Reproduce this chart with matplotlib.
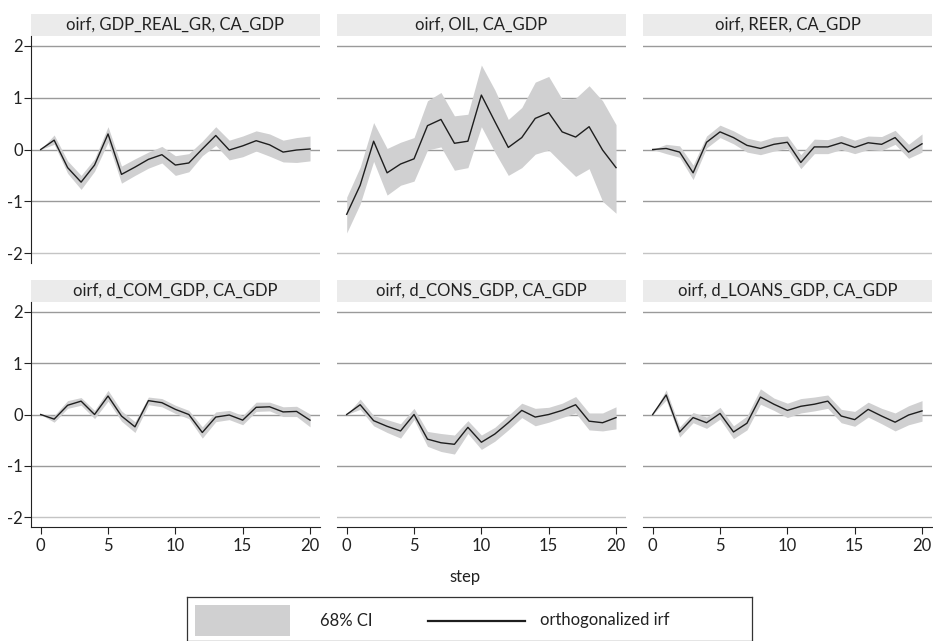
import numpy as np
import matplotlib
matplotlib.use("Agg")
import matplotlib.pyplot as plt
from matplotlib.patches import Rectangle
from matplotlib.lines import Line2D

plt.rcParams['font.family'] = ['Lato', 'DejaVu Sans']

steps = list(range(21))

titles = ["oirf, GDP_REAL_GR, CA_GDP", "oirf, OIL, CA_GDP", "oirf, REER, CA_GDP",
          "oirf, d_COM_GDP, CA_GDP", "oirf, d_CONS_GDP, CA_GDP", "oirf, d_LOANS_GDP, CA_GDP"]

irf_gdp = [0, 0.18, -0.35, -0.63, -0.30, 0.30, -0.48, -0.34, -0.19, -0.10, -0.30,
           -0.26, 0.01, 0.27, -0.01, 0.07, 0.17, 0.09, -0.05, -0.01, 0.01]
hi_gdp = [0, 0.28, -0.22, -0.50, -0.18, 0.44, -0.32, -0.18, -0.05, 0.06, -0.12,
          -0.08, 0.16, 0.44, 0.18, 0.26, 0.36, 0.30, 0.18, 0.23, 0.26]
lo_gdp = [0, 0.10, -0.46, -0.77, -0.42, 0.14, -0.65, -0.50, -0.36, -0.26, -0.50,
          -0.43, -0.12, 0.08, -0.20, -0.14, -0.03, -0.13, -0.24, -0.25, -0.22]

irf_oil = [-1.25, -0.69, 0.16, -0.45, -0.28, -0.18, 0.46, 0.58, 0.12, 0.16, 1.05,
           0.54, 0.04, 0.23, 0.60, 0.71, 0.34, 0.24, 0.44, -0.01, -0.35]
hi_oil = [-0.92, -0.34, 0.52, 0.02, 0.14, 0.23, 0.94, 1.10, 0.65, 0.68, 1.63,
          1.15, 0.58, 0.81, 1.30, 1.41, 0.97, 0.99, 1.23, 0.94, 0.48]
lo_oil = [-1.61, -1.05, -0.23, -0.88, -0.69, -0.61, -0.01, 0.05, -0.40, -0.35, 0.44,
          -0.05, -0.50, -0.35, -0.09, -0.01, -0.27, -0.52, -0.37, -1.00, -1.23]

irf_reer = [0, 0.02, -0.05, -0.45, 0.14, 0.34, 0.23, 0.08, 0.02, 0.10, 0.14,
            -0.25, 0.05, 0.05, 0.13, 0.04, 0.13, 0.10, 0.23, -0.05, 0.11]
hi_reer = [0, 0.10, 0.07, -0.30, 0.26, 0.47, 0.36, 0.22, 0.16, 0.24, 0.26,
           -0.10, 0.20, 0.19, 0.27, 0.18, 0.26, 0.25, 0.37, 0.10, 0.30]
lo_reer = [0, -0.08, -0.15, -0.58, 0.03, 0.23, 0.11, -0.05, -0.10, -0.03, 0.02,
           -0.37, -0.08, -0.08, 0.00, -0.08, 0.00, -0.02, 0.10, -0.17, -0.05]

irf_com = [0, -0.09, 0.18, 0.26, 0.00, 0.36, -0.03, -0.24, 0.27, 0.23, 0.10,
           0.00, -0.35, -0.05, -0.01, -0.11, 0.14, 0.15, 0.05, 0.06, -0.11]
hi_com = [0, -0.02, 0.27, 0.33, 0.08, 0.47, 0.07, -0.14, 0.34, 0.31, 0.18,
          0.08, -0.24, 0.05, 0.08, -0.02, 0.24, 0.24, 0.15, 0.16, 0.01]
lo_com = [0, -0.15, 0.12, 0.18, -0.08, 0.26, -0.13, -0.35, 0.19, 0.15, 0.02,
          -0.08, -0.46, -0.14, -0.10, -0.20, 0.06, 0.07, -0.04, -0.04, -0.24]

irf_cons = [0, 0.19, -0.12, -0.23, -0.32, 0.00, -0.48, -0.55, -0.58, -0.25, -0.54,
            -0.38, -0.16, 0.08, -0.05, 0.00, 0.08, 0.19, -0.13, -0.16, -0.06]
hi_cons = [0, 0.30, -0.02, -0.10, -0.18, 0.12, -0.33, -0.37, -0.40, -0.12, -0.40,
           -0.25, -0.02, 0.22, 0.12, 0.14, 0.22, 0.35, 0.03, 0.03, 0.15]
lo_cons = [0, 0.10, -0.22, -0.35, -0.46, -0.10, -0.62, -0.72, -0.77, -0.37, -0.68,
           -0.52, -0.30, -0.06, -0.22, -0.15, -0.06, 0.03, -0.30, -0.32, -0.28]

irf_loans = [0, 0.38, -0.34, -0.06, -0.16, 0.02, -0.34, -0.17, 0.34, 0.20, 0.08,
             0.16, 0.20, 0.26, -0.03, -0.10, 0.10, -0.03, -0.15, -0.01, 0.07]
hi_loans = [0, 0.48, -0.24, 0.04, -0.05, 0.14, -0.22, -0.03, 0.50, 0.32, 0.22,
            0.31, 0.34, 0.38, 0.10, 0.06, 0.24, 0.12, 0.03, 0.17, 0.27]
lo_loans = [0, 0.28, -0.44, -0.16, -0.27, -0.09, -0.47, -0.30, 0.20, 0.08, -0.06,
            0.03, 0.07, 0.12, -0.16, -0.23, -0.05, -0.18, -0.32, -0.20, -0.13]

irfs = [irf_gdp, irf_oil, irf_reer, irf_com, irf_cons, irf_loans]
his = [hi_gdp, hi_oil, hi_reer, hi_com, hi_cons, hi_loans]
los = [lo_gdp, lo_oil, lo_reer, lo_com, lo_cons, lo_loans]

W, H = 933, 641
fig = plt.figure(figsize=(W / 100, H / 100), dpi=100)

band_col = "#d0d0d1"
line_col = "#1e1e1e"
strip_col = "#ebebeb"
fs = 12

def px(x, y, w, h):
    # pixel box (top-left origin) -> figure fraction
    return [x / W, 1 - (y + h) / H, w / W, h / H]

col_left = [31, 337, 643]
pw = 289
rows = [(14, 36, 263), (280, 302, 527)]  # strip top, axes top, axes bottom

for i in range(6):
    r, c = divmod(i, 3)
    st, at, ab = rows[r]
    x0 = col_left[c]
    # header strip
    hax = fig.add_axes(px(x0, st, pw, at - st))
    hax.set_facecolor(strip_col)
    hax.set_xticks([]); hax.set_yticks([])
    for s in hax.spines.values():
        s.set_visible(False)
    hax.text(0.5, 0.5, titles[i], ha="center", va="center", fontsize=fs, color="#222222")

    ax = fig.add_axes(px(x0, at, pw, ab - at))
    ax.set_xlim(-0.72, 20.74)
    ax.set_ylim(-2.19, 2.19)
    for yv in [2, 1, 0, -1, -2]:
        ax.axhline(yv, color="#c4c4c4" if yv == -2 else "#9a9a9a", lw=1, zorder=0)
    ax.fill_between(steps, los[i], his[i], color=band_col, lw=0, zorder=1)
    ax.plot(steps, irfs[i], color=line_col, lw=1, zorder=2)
    for s in ax.spines.values():
        s.set_visible(False)
    ax.set_yticks([2, 1, 0, -1, -2])
    ax.set_xticks([0, 5, 10, 15, 20])
    if c == 0:
        ax.spines["left"].set_visible(True)
        ax.spines["left"].set_color("#222222")
        ax.set_yticklabels(["2", "1", "0", "-1", "-2"], fontsize=fs)
        ax.tick_params(axis="y", length=5, width=0.8, colors="#222222", pad=1)
    else:
        ax.tick_params(axis="y", left=False, labelleft=False)
    if r == 1:
        ax.spines["bottom"].set_visible(True)
        ax.spines["bottom"].set_color("#222222")
        ax.tick_params(axis="x", length=5, width=0.8, colors="#222222", labelsize=fs, pad=3)
    else:
        ax.tick_params(axis="x", bottom=False, labelbottom=False)

fig.text(465 / W, 1 - 577 / H, "step", ha="center", va="center", fontsize=fs, color="#222222")

# legend box
lax = fig.add_axes(px(187, 597, 565, 44))
lax.set_xlim(187, 752)
lax.set_ylim(641, 597)
lax.set_xticks([]); lax.set_yticks([])
for s in lax.spines.values():
    s.set_color("#333333")
    s.set_linewidth(0.9)
lax.add_patch(Rectangle((195, 605), 95, 31, color=band_col, lw=0))
lax.text(320, 621, "68% CI", ha="left", va="center", fontsize=fs, color="#222222")
lax.add_line(Line2D([428, 525], [621, 621], color=line_col, lw=1.6))
lax.text(540, 620, "orthogonalized irf", ha="left", va="center", fontsize=fs, color="#222222")

fig.savefig("out.png", dpi=100)
